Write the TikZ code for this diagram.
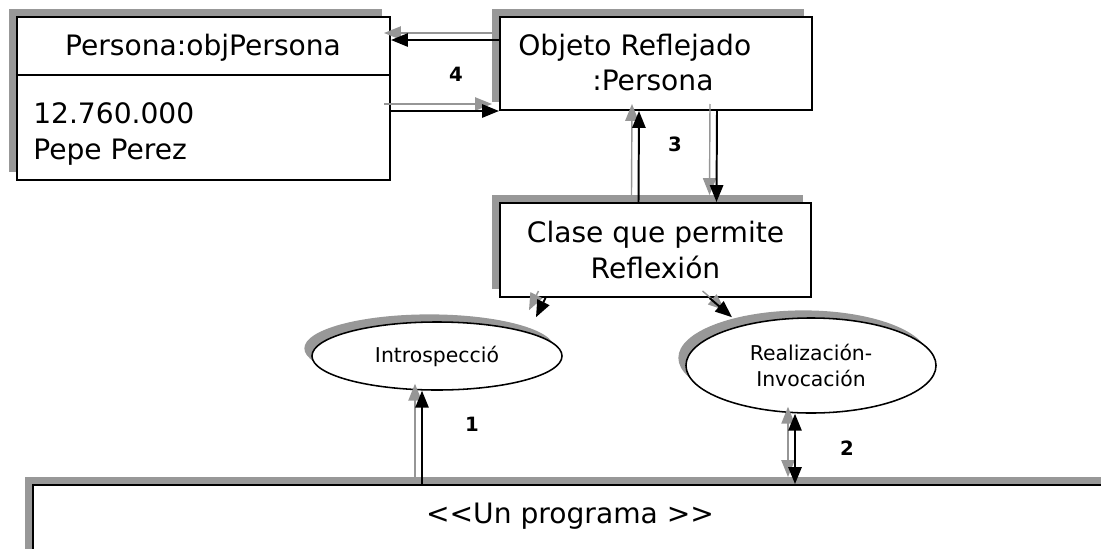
\documentclass[tikz,border=0pt]{standalone}
\usepackage{fontspec}
\setmainfont{DejaVu Sans}
\usetikzlibrary{arrows.meta,shapes.geometric,shadows,positioning}
\definecolor{shadowGray}{RGB}{152,152,152}
\definecolor{arrowGray}{RGB}{150,150,150}
\tikzset{
  bigtip/.tip={Triangle[length=4.2mm,width=3.3mm]},
  box/.style={draw, rectangle, line width=1.4pt, fill=white, inner sep=0pt,
    general shadow={fill=shadowGray, shadow xshift=-0.19cm, shadow yshift=0.19cm}},
  oval/.style={draw, ellipse, line width=1.1pt, fill=white, inner sep=0pt,
    general shadow={fill=shadowGray, shadow xshift=-0.19cm, shadow yshift=0.19cm}},
  txt/.style={inner sep=0pt, font=\fontsize{20}{25}\selectfont},
  small/.style={inner sep=0pt, font=\fontsize{14.5}{18}\selectfont},
  num/.style={inner sep=0pt, font=\fontsize{14}{16}\selectfont\bfseries},
  flow/.style={draw=black, line width=1.4pt}
}
% connectors, drawn once as shadow and once in black
\newcommand{\flowlines}{%
  \draw[flow,-bigtip] ([shift={(0,-23.5)}]objeto.west) -- ([shift={(0,-58.5)}]persona.east);
  \draw[flow,-bigtip] (persona.east |- objeto.south) -- (objeto.south west);
  \draw[flow,-bigtip] ([shift={(-17,0)}]clase.north) -- ([shift={(-17,0)}]objeto.south);
  \draw[flow,-bigtip] ([shift={(61,0)}]objeto.south) -- ([shift={(61,0)}]clase.north);
  \draw[flow,-bigtip] ([shift={(-110,0)}]clase.south) -- ([shift={(99,-4)}]intro.north);
  \draw[flow,-bigtip] ([shift={(54,0)}]clase.south) -- ([shift={(-79,0)}]real.north);
  \draw[flow,-bigtip] ([shift={(-15,0)}]intro.south |- prog.north) -- ([shift={(-15,0)}]intro.south);
  \draw[flow,bigtip-bigtip] ([shift={(-16,0)}]real.south) -- ([shift={(-16,0)}]real.south |- prog.north);
}
\begin{document}
\begin{tikzpicture}[x=0.025cm, y=-0.025cm]
  \useasboundingbox (0,0) rectangle (1101,548);

  % objects
  \node[box, minimum width=9.325cm, minimum height=4.075cm] (persona) at (203.5,98.5) {};
  \draw[line width=1pt] ([shift={(0,59)}]persona.north west) -- ([shift={(0,59)}]persona.north east);
  \node[txt, anchor=base] (personaname) at (203,55) {Persona:objPersona};
  \node[txt, anchor=base west] (personaid) at (33,123) {12.760.000};
  \node[txt, anchor=base west] (personanom) at (33,159) {Pepe Perez};

  \node[box, minimum width=7.8cm, minimum height=2.325cm] (objeto) at (656,63.5) {};
  \node[txt, anchor=base west] (objname) at (518,55) {Objeto Reflejado};
  \node[txt, anchor=base west] (objclass) at (592,90) {:Persona};

  \node[box, txt, minimum width=7.775cm, minimum height=2.35cm, align=center] (clase) at (655.5,250) {Clase que permite\\Reflexión};

  \node[oval, small, minimum width=6.25cm, minimum height=1.7cm] (intro) at (437,356) {Introspecció};
  \node[oval, small, minimum width=6.25cm, minimum height=2.375cm, align=center] (real) at (811,365.5) {Realización-\\Invocación};

  % programa
  \node[box, minimum width=27.8cm, minimum height=3cm, anchor=north west] (prog) at (32,484) {};
  \node[txt, anchor=base] (progname) at (570,523) {<\kern0pt<Un programa >\kern0pt>};

  % connectors
  \begin{scope}[transform canvas={shift={(-7,-7)}}, flow/.style={draw=arrowGray, fill=arrowGray, line width=1pt}]
    \flowlines
  \end{scope}
  \flowlines

  \node[num, anchor=base] (lab4) at (456,81) {4};
  \node[num, anchor=base] (lab3) at (675,151) {3};
  \node[num, anchor=base] (lab1) at (472,431) {1};
  \node[num, anchor=base] (lab2) at (847,455) {2};
\end{tikzpicture}
\end{document}
